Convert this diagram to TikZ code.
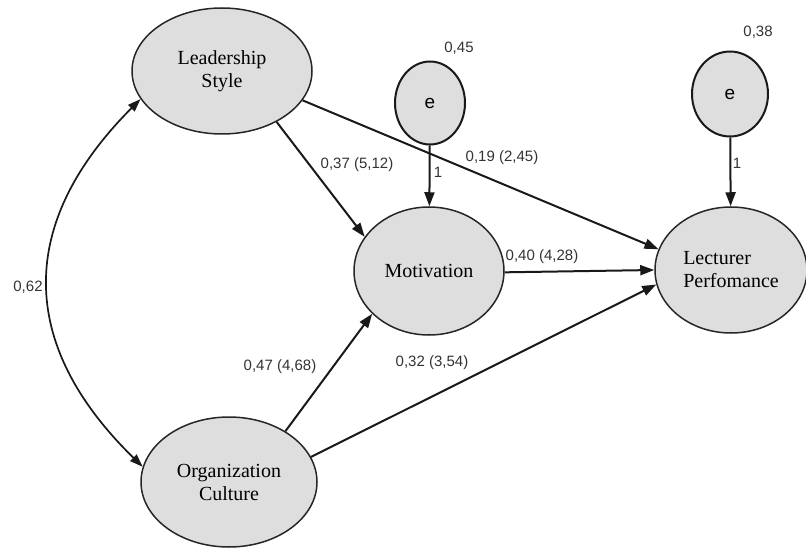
\documentclass[tikz,border=0pt]{standalone}
\usepackage{fontspec}
\setmainfont{Liberation Serif}
\setsansfont{Liberation Sans}
\usetikzlibrary{shapes.geometric,arrows.meta}
\begin{document}
\begin{tikzpicture}[x=1pt,y=-1pt,
  latent/.style={ellipse,draw=black!85,line width=1.5pt,fill=black!13,inner sep=0pt,
    font=\fontsize{20}{23}\selectfont,align=center},
  errnode/.style={ellipse,draw=black!90,line width=2pt,fill=black!13,inner sep=0pt,
    font=\sffamily\fontsize{19}{21}\selectfont},
  coef/.style={font=\sffamily\fontsize{15}{17}\selectfont,text=black!80,inner sep=1pt},
  path/.style={draw=black!90,line width=2pt,-{Triangle[length=14pt,width=10pt]}},
  cov/.style={draw=black!90,line width=1.7pt,{Triangle[length=13pt,width=9pt]}-{Triangle[length=13pt,width=9pt]}}
]
\useasboundingbox (0,0) rectangle (806,548);

% latent variables
\node[latent,minimum width=180pt,minimum height=126pt] (ls) at (222,71) {Leadership\\Style};
\node[latent,minimum width=150pt,minimum height=128pt] (mot) at (429,271) {Motivation};
\node[latent,minimum width=152pt,minimum height=126pt,align=left] (lp) at (731,270) {Lecturer\\Perfomance};
\node[latent,minimum width=176pt,minimum height=130pt] (oc) at (229,482) {Organization\\Culture};

% error terms
\node[errnode,minimum width=70pt,minimum height=83pt] (e1) at (430,103) {e};
\node[errnode,minimum width=76pt,minimum height=85pt] (e2) at (730,94) {e};

% structural paths
\draw[path] (ls.-43) -- (mot.152);
\draw[path] (ls.-20) -- (lp.164);
\draw[path] (oc.42) -- (mot.217);
\draw[path] (oc.17) -- (lp.191);
\draw[path] (mot.-1) -- (lp.180);
\draw[path] (e1) -- (mot);
\draw[path] (e2) -- (lp);

% covariance between exogenous variables
\draw[cov] (ls.199) .. controls (17,223) and (17,344) .. (oc.170);

% coefficients
\node[coef] (c1) at (357,165) {0,37 (5,12)};
\node[coef] (c2) at (502,158) {0,19 (2,45)};
\node[coef] (c3) at (280,367) {0,47 (4,68)};
\node[coef] (c4) at (432,363) {0,32 (3,54)};
\node[coef] (c5) at (542,257) {0,40 (4,28)};
\node[coef] (c6) at (28,287) {0,62};
\node[coef] (v1) at (459,48) {0,45};
\node[coef] (v2) at (758,32) {0,38};
\node[coef] (w1) at (438,172) {1};
\node[coef] (w2) at (737,163) {1};
\end{tikzpicture}
\end{document}
